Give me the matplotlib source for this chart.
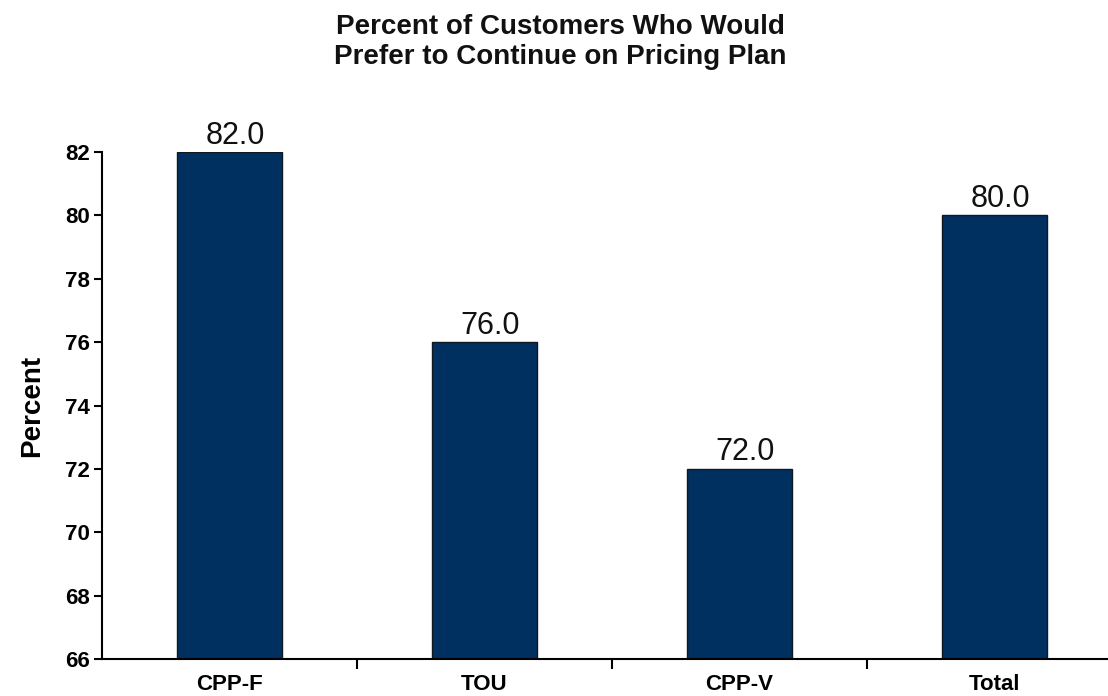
import matplotlib.pyplot as plt

# --- data ---
categories = ["CPP-F", "TOU", "CPP-V", "Total"]
values = [82.0, 76.0, 72.0, 80.0]
yticks = [66, 68, 70, 72, 74, 76, 78, 80, 82]

plt.rcParams["font.family"] = ["Liberation Sans", "DejaVu Sans"]

fig = plt.figure(figsize=(11.08, 6.96), dpi=100, facecolor="white")
ax = fig.add_axes([102 / 1108, 1 - 659 / 696, 1020 / 1108, (659 - 152) / 696])

x = range(len(categories))
ax.bar(x, values, width=0.41, color="#003060", edgecolor="#101820", linewidth=1.0)

# value labels above bars
for xi, v in zip(x, values):
    ax.annotate(f"{v:.1f}", (xi, v), xytext=(4, 1), textcoords="offset points",
                ha="center", va="bottom", fontsize=22, color="#111111")

ax.set_ylim(66, 82)
ax.set_xlim(-0.5, 3.5)
ax.set_yticks(yticks)
ax.set_yticklabels([str(t) for t in yticks], fontsize=16, fontweight="bold")

# x ticks at category boundaries, labels at centers
ax.set_xticks([0.5, 1.5, 2.5])
ax.set_xticklabels([])
ax.set_xticks(list(x), minor=True)
ax.set_xticklabels(categories, minor=True, fontsize=16, fontweight="bold")
ax.tick_params(axis="x", which="minor", length=0, pad=11)
ax.tick_params(axis="x", which="major", length=7, width=1.5, direction="out")
ax.tick_params(axis="y", length=6, width=1.5, direction="out", pad=3)

for side in ["top", "right"]:
    ax.spines[side].set_visible(False)
ax.spines["left"].set_linewidth(1.5)
ax.spines["bottom"].set_linewidth(1.5)

ax.set_ylabel("Percent", fontsize=20, fontweight="bold", labelpad=14)

fig.text(560 / 1108, 1 - 42 / 696, "Percent of Customers Who Would\nPrefer to Continue on Pricing Plan",
         ha="center", va="center", fontsize=20, fontweight="bold", linespacing=1.25, color="#111111")

plt.savefig("out.png", dpi=100, facecolor="white")
